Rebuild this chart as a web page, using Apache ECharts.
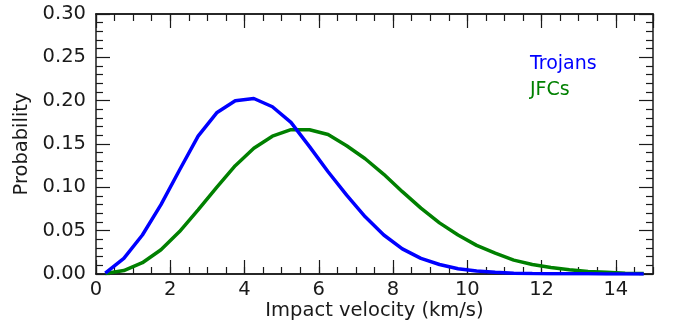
<!DOCTYPE html>
<html>
<head>
<meta charset="utf-8">
<script src="https://cdn.jsdelivr.net/npm/echarts@6/dist/echarts.min.js"></script>
<style>
  html, body { margin: 0; padding: 0; background: #fff; }
  #box { width: 673px; height: 324px; }
</style>
</head>
<body>
<div id="box"></div>
<script>
// impact velocity bins (km/s), centres of 0.5 km/s bins
var velocity = [0.25, 0.75, 1.25, 1.75, 2.25, 2.75, 3.25, 3.75, 4.25, 4.75,
                5.25, 5.75, 6.25, 6.75, 7.25, 7.75, 8.25, 8.75, 9.25, 9.75,
                10.25, 10.75, 11.25, 11.75, 12.25, 12.75, 13.25, 13.75, 14.25, 14.75];
var trojans = [0.001, 0.018, 0.045, 0.080, 0.120, 0.159, 0.186, 0.200, 0.2025, 0.193,
               0.175, 0.147, 0.118, 0.091, 0.066, 0.045, 0.029, 0.018, 0.011, 0.006,
               0.0035, 0.002, 0.001, 0.0006, 0.0004, 0.0003, 0.0002, 0.0001, 0.0001, 0.0001];
var jfcs = [0.0005, 0.004, 0.013, 0.028, 0.049, 0.074, 0.100, 0.125, 0.145, 0.159,
            0.1665, 0.1665, 0.161, 0.148, 0.133, 0.115, 0.095, 0.076, 0.059, 0.045,
            0.033, 0.024, 0.016, 0.011, 0.0075, 0.005, 0.003, 0.002, 0.001, 0.0007];
var seriesNames = ['Trojans', 'JFCs'];
var seriesColors = ['#0000ff', '#008000'];

var font = 'DejaVu Sans';
var ink = '#1a1a1a';
var fs = 19.5;

function pairs(ys) {
    return velocity.map(function (v, i) { return [v, ys[i]]; });
}

// x axes: major (labels) + minor (ticks only), bottom and top
function xAxis(pos, interval, len, labels) {
    return {
        type: 'value', position: pos, min: 0, max: 15, interval: interval,
        axisLine: { show: true, onZero: false, lineStyle: { color: ink, width: 1.5 } },
        axisTick: { show: true, inside: true, length: len, lineStyle: { color: ink, width: 1.2 } },
        axisLabel: { show: labels, showMaxLabel: false, margin: 6,
                     color: ink, fontFamily: font, fontSize: fs },
        splitLine: { show: false }
    };
}
function yAxis(pos, labels) {
    return {
        type: 'value', position: pos, min: 0, max: 0.3, interval: 0.05,
        axisLine: { show: true, onZero: false, lineStyle: { color: ink, width: 1.5 } },
        axisTick: { show: true, inside: true, length: 14, lineStyle: { color: ink, width: 1.2 } },
        minorTick: { show: true, splitNumber: 5, length: 7, lineStyle: { color: ink, width: 1.2 } },
        axisLabel: { show: labels, margin: 10, color: ink, fontFamily: font, fontSize: fs,
                     formatter: function (v) { return v.toFixed(2); } },
        splitLine: { show: false }
    };
}

var xs = [xAxis('bottom', 2, 14, true), xAxis('bottom', 0.5, 7, false),
          xAxis('top', 2, 14, false), xAxis('top', 0.5, 7, false)];
xs[0].name = 'Impact velocity (km/s)';
xs[0].nameLocation = 'middle';
xs[0].nameGap = 27;
xs[0].nameMoveOverlap = false;
xs[0].nameTextStyle = { color: ink, fontFamily: font, fontSize: fs };

var ys = [yAxis('left', true), yAxis('right', false)];
ys[0].name = 'Probability';
ys[0].nameLocation = 'middle';
ys[0].nameGap = 64;
ys[0].nameMoveOverlap = false;
ys[0].nameTextStyle = { color: ink, fontFamily: font, fontSize: fs };

var chart = echarts.init(document.getElementById('box'), null, { renderer: 'canvas' });
var option = {
    animation: false,
    backgroundColor: '#fff',
    grid: { left: 96, right: 20, top: 14, bottom: 50, containLabel: false, outerBoundsMode: 'none' },
    legend: {
        orient: 'vertical', left: 520, top: 50, itemGap: 7,
        itemWidth: 0, itemHeight: 0, icon: 'rect',
        selectedMode: false,
        textStyle: { fontFamily: font, fontSize: 19 },
        data: seriesNames.map(function (n, i) {
            return { name: n, textStyle: { color: seriesColors[i] } };
        })
    },
    xAxis: xs,
    yAxis: ys,
    series: [
        {
            name: seriesNames[1], type: 'line', data: pairs(jfcs), z: 2,
            showSymbol: false, symbol: 'none', color: seriesColors[1],
            lineStyle: { color: seriesColors[1], width: 3.5 }
        },
        {
            name: seriesNames[0], type: 'line', data: pairs(trojans), z: 3,
            showSymbol: false, symbol: 'none', color: seriesColors[0],
            lineStyle: { color: seriesColors[0], width: 3.5 }
        }
    ]
};
chart.setOption(option);
</script>
</body>
</html>
